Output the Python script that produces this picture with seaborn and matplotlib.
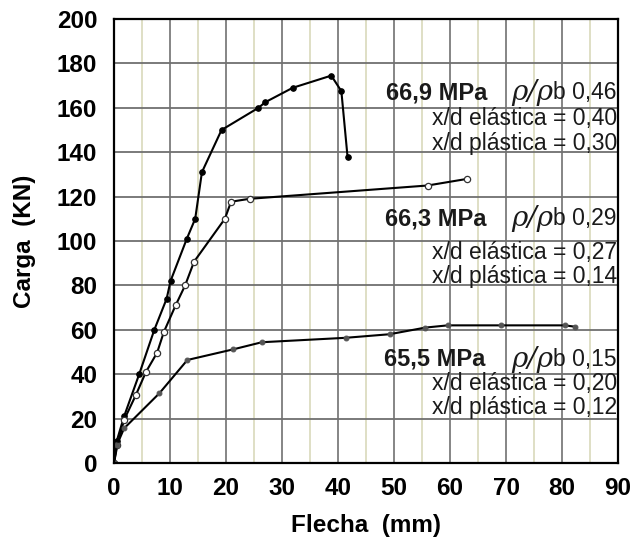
import matplotlib
matplotlib.use("Agg")
import matplotlib.pyplot as plt
import seaborn as sns
import pandas as pd
import numpy as np

# --- data ---
x_669 = [0, 0.5, 1.8, 4.5, 7.2, 9.4, 10.1, 13.0, 14.5, 15.7, 19.2, 25.8, 27.0, 31.9, 38.8, 40.6, 41.7]
y_669 = [0, 10, 21, 40, 60, 74, 82, 101, 110, 131, 150, 160, 162.5, 169, 174.5, 167.5, 138]

x_663 = [0, 0.6, 1.8, 3.9, 5.7, 7.7, 8.9, 11.0, 12.7, 14.3, 19.8, 20.9, 24.2, 56.0, 63.1]
y_663 = [0, 8, 19.4, 30.6, 41, 49.7, 59, 71, 80, 90.7, 110, 117.7, 119, 125, 128]

x_655 = [0, 0.5, 1.8, 8.1, 13.1, 21.3, 26.4, 41.4, 49.2, 55.6, 59.6, 69.1, 80.5, 82.3]
y_655 = [0, 8, 15.6, 31.4, 46.4, 51.2, 54.4, 56.4, 58, 61, 62, 62, 62, 61.4]

series_names = ["66,9 MPa", "66,3 MPa", "65,5 MPa"]
rho_values = ["0,46", "0,29", "0,15"]
xd_elastica = ["0,40", "0,27", "0,20"]
xd_plastica = ["0,30", "0,14", "0,12"]

x_ticks = list(range(0, 91, 10))
y_ticks = list(range(0, 201, 20))

df = pd.concat([
    pd.DataFrame({"Flecha": x_669, "Carga": y_669, "serie": series_names[0]}),
    pd.DataFrame({"Flecha": x_663, "Carga": y_663, "serie": series_names[1]}),
    pd.DataFrame({"Flecha": x_655, "Carga": y_655, "serie": series_names[2]}),
], ignore_index=True)

sns.set_theme(style="white")
plt.rcParams["font.family"] = ["Liberation Sans", "DejaVu Sans"]
plt.rcParams["text.color"] = "black"
plt.rcParams["xtick.color"] = "black"
plt.rcParams["ytick.color"] = "black"
plt.rcParams["axes.labelcolor"] = "black"

fig = plt.figure(figsize=(6.34, 5.43), dpi=100)
ax = fig.add_axes([114/634, 1 - 463/543, (618-114)/634, (463-19)/543])

# grid
ax.set_xlim(0, 90)
ax.set_ylim(0, 200)
for xv in np.arange(5, 90, 10):
    ax.axvline(xv, color="#dcdcc0", lw=1.3, zorder=0)
for xv in np.arange(10, 90, 10):
    ax.axvline(xv, color="#7c7c7c", lw=1.3, zorder=0)
for yv in np.arange(20, 200, 20):
    ax.axhline(yv, color="#707070", lw=1.3, zorder=0)

styles = {
    series_names[0]: dict(marker="o", ms=4, mfc="black", mec="black"),
    series_names[1]: dict(marker="o", ms=4.5, mfc="white", mec="#333333", mew=0.9),
    series_names[2]: dict(marker="o", ms=3.5, mfc="#555555", mec="#555555"),
}
for name in series_names:
    sub = df[df["serie"] == name]
    sns.lineplot(data=sub, x="Flecha", y="Carga", ax=ax, sort=False, estimator=None,
                 color="black", lw=1.5, legend=False, **styles[name])

ax.set_xticks(x_ticks)
ax.set_yticks(y_ticks)
ax.tick_params(axis="both", length=0, labelsize=17.5, labelcolor="black")
ax.tick_params(axis="y", pad=12)
ax.tick_params(axis="x", pad=10)
for lab in ax.get_xticklabels() + ax.get_yticklabels():
    lab.set_fontweight("bold")
ax.set_xlabel("Flecha  (mm)", fontsize=17.5, fontweight="bold", labelpad=10, color="black")
ax.set_ylabel("Carga  (KN)", fontsize=17.5, fontweight="bold", labelpad=15, color="black")
for s in ax.spines.values():
    s.set_visible(True)
    s.set_color("black")
    s.set_linewidth(1.6)

# annotations
y_title = [166.7, 110, 46.8]
y_el = [155, 95, 36]
y_pl = [144, 83.8, 25.2]
x_right = 89.8
for i in range(3):
    t_rho = ax.text(x_right, y_title[i], "b " + rho_values[i], ha="right", va="center",
                    fontsize=16.5, color="#1a1a1a")
    ax.annotate("ρ/ρ", xy=(0, 0.5), xycoords=t_rho, ha="right", va="center",
                fontsize=20, fontstyle="italic", family="DejaVu Serif", color="#1a1a1a")
    ax.text(66.6 if i < 2 else 66.3, y_title[i], series_names[i], ha="right", va="center",
            fontsize=17, fontweight="bold", color="#1a1a1a")
    ax.text(x_right, y_el[i], "x/d elástica = " + xd_elastica[i], ha="right", va="center",
            fontsize=16.5, color="#1a1a1a")
    ax.text(x_right, y_pl[i], "x/d plástica = " + xd_plastica[i], ha="right", va="center",
            fontsize=16.5, color="#1a1a1a")

fig.savefig("out.png", dpi=100)
